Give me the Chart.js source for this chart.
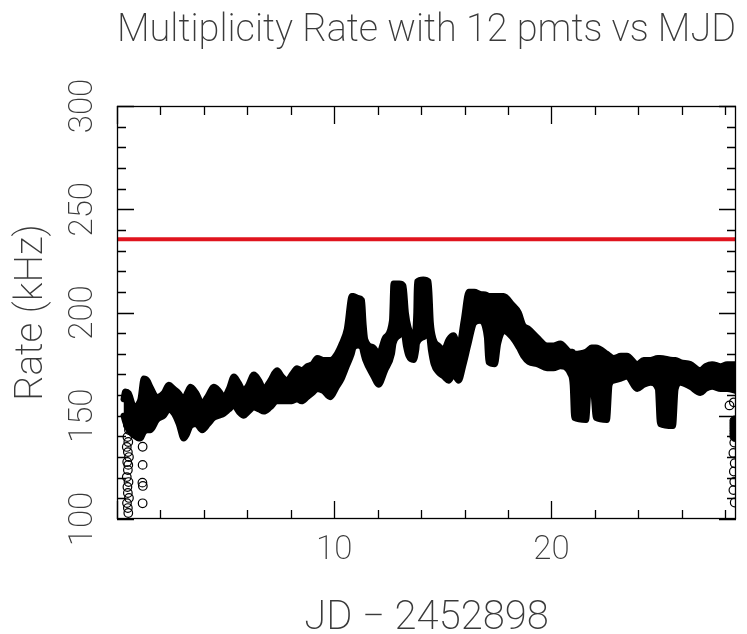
<!DOCTYPE html>
<html>
<head>
<meta charset="utf-8">
<script src="https://cdn.jsdelivr.net/npm/chart.js"></script>
<style>
  html, body { margin: 0; padding: 0; background: #fff; }
  canvas { display: block; }
</style>
</head>
<body>
<canvas id="rateChart" width="747" height="634"></canvas>
<script>
// band of overplotted points: upper / lower edge (kHz)
var bandDays = [
    0.30, 0.38, 0.54, 0.70, 0.84, 1.00, 1.08, 1.23, 1.40, 1.54,
    1.84, 2.15, 2.38, 2.62, 2.84, 3.07, 3.22, 3.38, 3.65, 3.92,
    4.20, 4.45, 4.70, 4.92, 5.15, 5.38, 5.60, 5.84, 6.05, 6.30,
    6.55, 6.76, 7.05, 7.37, 7.60, 7.83, 8.05, 8.29, 8.50, 8.76,
    9.00, 9.22, 9.50, 9.82, 10.12, 10.35, 10.58, 10.81, 10.89, 11.10,
    11.28, 11.35, 11.43, 11.81, 12.04, 12.35, 12.66, 12.73, 13.00, 13.19,
    13.30, 13.42, 13.66, 13.78, 13.81, 14.10, 14.35, 14.45, 14.58, 14.80,
    15.04, 15.27, 15.50, 15.73, 15.96, 16.19, 16.45, 16.72, 17.03, 17.10,
    17.40, 17.55, 17.80, 18.19, 18.50, 18.70, 18.96, 19.34, 19.80, 20.10,
    20.41, 20.88, 20.98, 21.05, 21.60, 21.72, 21.85, 21.95, 22.05, 22.56,
    22.68, 22.87, 23.20, 23.48, 23.95, 24.25, 24.56, 24.90, 25.00, 25.60,
    25.72, 25.94, 26.40, 26.86, 27.10, 27.40, 27.80, 28.09, 28.50
];
var bandUpper = [
    158, 161.7, 161, 156, 153, 156, 158, 168, 167, 164,
    159, 161, 165, 163, 161, 158, 161, 164, 161, 156,
    160, 164, 162, 159, 163, 169, 166, 162, 165, 170,
    167, 163, 167, 172, 169, 167, 170, 173, 172, 174,
    175, 178, 177, 177, 180, 185, 192, 208, 208, 207,
    206, 195, 187, 183, 180, 188, 196, 214, 214, 213,
    200, 193, 188, 200, 215, 216, 215, 195, 187, 184,
    182, 187, 189, 183, 196, 210, 210, 209, 208.5, 208,
    208, 208, 208, 204, 200, 194, 192, 188, 184, 184,
    185, 181, 181, 180, 181, 182, 183, 183, 183, 180,
    179, 178, 179, 179, 175, 177, 177, 178, 178, 177,
    177, 176, 175, 172, 174, 175, 174, 175, 175
];
var bandLower = [
    150, 147, 143, 141, 140, 139, 139, 142, 143, 143,
    148, 150, 153, 151, 146, 139, 141, 145, 146, 143,
    146, 149, 150, 151, 153, 155, 152, 150, 152, 154,
    153, 152, 154, 157, 157, 157, 157, 158, 157, 159,
    161, 163, 162, 159, 164, 168, 174, 180, 183, 184,
    183, 180, 177, 169, 165, 172, 180, 185, 189, 191,
    184, 179, 177, 182, 185, 188, 190, 182, 175, 171,
    169, 167, 170, 167, 175, 185, 195, 196, 188, 176,
    175, 185, 191, 188, 183, 179, 176, 175, 173, 173,
    174, 170, 165, 149, 148, 165, 169, 160, 149, 148,
    165, 167, 168, 169, 163, 165, 166, 163, 146, 145,
    163, 166, 164, 161, 163, 164, 163, 163, 162
];

// single low points (open circles)
var lowDays = [0.45, 0.50, 0.55, 0.48, 0.52, 0.45, 0.50, 0.55, 0.47, 0.52,
               0.50, 0.45, 0.53, 0.48, 0.50, 0.55, 0.46, 0.50, 0.52,
               1.18, 1.18, 1.17, 1.19, 1.18,
               28.20, 28.40, 28.42, 28.38, 28.44, 28.40, 28.42, 28.38, 28.44];
var lowRates = [148.9, 145.5, 143.1, 139.7, 137.3, 134.9, 132.4, 130.0, 127.6, 126.2,
                123.7, 120.3, 117.9, 115.5, 112.6, 110.2, 107.7, 105.3, 102.9,
                135.0, 126.2, 117.6, 116.0, 107.6,
                155.0, 156.5, 137.0, 132.0, 127.0, 123.0, 118.0, 114.0, 108.0];

// last block at the right edge (dense, drawn filled)
var endDays = [28.45, 28.45, 28.45, 28.45, 28.45, 28.45];
var endRates = [140, 141.5, 143, 144.5, 146, 147.5];

var limitDays = [0, 28.5];
var limitRate = 235.5;

var xTickLabels = [10, 20];
var yTickLabels = [100, 150, 200, 250, 300];

var FONT = "Roboto, 'Liberation Sans', sans-serif";
var TEXT = '#3a3a3a';

function pts(xs, ys) {
    return xs.map(function (x, i) { return { x: x, y: ys[i] }; });
}

// PGPLOT style box: frame + inward ticks on all four sides
var boxTicks = {
    id: 'boxTicks',
    afterDatasetsDraw: function (chart) {
        var ctx = chart.ctx, a = chart.chartArea;
        var x = chart.scales.x, y = chart.scales.y;
        ctx.save();
        ctx.strokeStyle = '#000';
        ctx.lineWidth = 1.3;
        ctx.strokeRect(a.left + 0.5, a.top + 0.5, a.right - a.left - 1, a.bottom - a.top - 1);
        ctx.beginPath();
        x.ticks.forEach(function (t) {
            var px = Math.round(x.getPixelForValue(t.value)) + 0.5;
            var len = t.value % 10 === 0 ? 18 : 9;
            ctx.moveTo(px, a.bottom); ctx.lineTo(px, a.bottom - len);
            ctx.moveTo(px, a.top); ctx.lineTo(px, a.top + len);
        });
        y.ticks.forEach(function (t) {
            var py = Math.round(y.getPixelForValue(t.value)) + 0.5;
            var len = t.value % 50 === 0 ? 17 : 9;
            ctx.moveTo(a.left, py); ctx.lineTo(a.left + len, py);
            ctx.moveTo(a.right, py); ctx.lineTo(a.right - len, py);
        });
        ctx.stroke();
        ctx.restore();
    }
};

var bandStyle = {
    borderColor: '#000',
    borderWidth: 6,
    borderJoinStyle: 'round',
    borderCapStyle: 'round',
    pointRadius: 0,
    cubicInterpolationMode: 'monotone'
};

var ctx = document.getElementById('rateChart').getContext('2d');
var rateChart = new Chart(ctx, {
    type: 'line',
    data: {
        datasets: [
            Object.assign({ data: pts(bandDays, bandLower), fill: false }, bandStyle),
            Object.assign({ data: pts(bandDays, bandUpper), fill: '-1', backgroundColor: '#000' }, bandStyle),
            { data: pts(lowDays, lowRates), showLine: false, pointRadius: 4.3, pointBorderWidth: 1.2,
              pointBorderColor: '#000', pointBackgroundColor: 'rgba(0,0,0,0)' },
            { data: pts(endDays, endRates), showLine: false, pointRadius: 5, pointBorderWidth: 1,
              pointBorderColor: '#000', pointBackgroundColor: '#000' },
            { data: pts(limitDays, [limitRate, limitRate]), borderColor: '#e0141e', borderWidth: 4, pointRadius: 0, fill: false }
        ]
    },
    options: {
        responsive: false,
        animation: false,
        devicePixelRatio: 1,
        layout: { padding: { top: 0, right: 11, bottom: 0, left: 0 } },
        plugins: {
            legend: { display: false },
            tooltip: { enabled: false },
            title: {
                display: true,
                fullSize: false,
                text: 'Multiplicity Rate with 12 pmts vs MJD',
                color: TEXT,
                font: { family: FONT, size: 38, weight: 200, lineHeight: 1 },
                padding: { top: 12, bottom: 56 }
            }
        },
        scales: {
            x: {
                type: 'linear',
                min: 0,
                max: 28.5,
                afterBuildTicks: function (axis) {
                    var t = [];
                    for (var v = 0; v <= 28; v += 2) t.push({ value: v });
                    axis.ticks = t;
                },
                afterFit: function (s) {
                    s.height = 115;
                    s.paddingLeft = 0; s.paddingRight = 0; s.paddingTop = 0; s.paddingBottom = 0;
                },
                grid: { display: false, drawTicks: false },
                border: { display: false },
                ticks: {
                    autoSkip: false,
                    maxRotation: 0,
                    padding: 15,
                    color: TEXT,
                    font: { family: FONT, size: 33, weight: 200, lineHeight: 1 },
                    callback: function (v) { return xTickLabels.indexOf(v) >= 0 ? String(v) : ''; }
                },
                title: {
                    display: true,
                    text: 'JD \u2212 2452898',
                    color: TEXT,
                    font: { family: FONT, size: 40, weight: 200, lineHeight: 1 },
                    padding: { top: 0, bottom: -5 }
                }
            },
            y: {
                min: 100,
                max: 300,
                afterBuildTicks: function (axis) {
                    var t = [];
                    for (var v = 100; v <= 300; v += 10) t.push({ value: v });
                    axis.ticks = t;
                },
                afterFit: function (s) {
                    s.width = 117;
                    s.paddingLeft = 0; s.paddingRight = 0; s.paddingTop = 0; s.paddingBottom = 0;
                },
                grid: { display: false, drawTicks: false },
                border: { display: false },
                ticks: {
                    autoSkip: false,
                    minRotation: 90,
                    maxRotation: 90,
                    crossAlign: 'center',
                    padding: 6,
                    color: TEXT,
                    font: { family: FONT, size: 33, weight: 200, lineHeight: 1 },
                    callback: function (v) { return yTickLabels.indexOf(v) >= 0 ? String(v) : ''; }
                },
                title: {
                    display: true,
                    text: 'Rate (kHz)',
                    color: TEXT,
                    font: { family: FONT, size: 39, weight: 200, lineHeight: 1 },
                    padding: { top: 13, bottom: 0 }
                }
            }
        }
    },
    plugins: [boxTicks]
});
</script>
</body>
</html>
